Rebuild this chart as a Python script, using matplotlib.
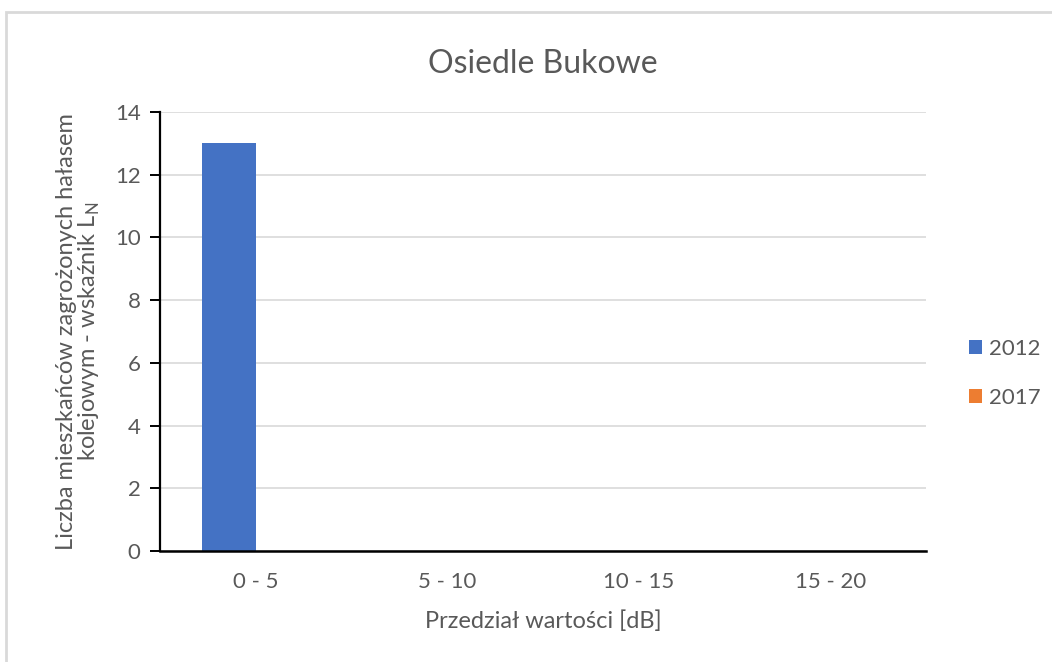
import matplotlib
matplotlib.use("Agg")
import matplotlib.pyplot as plt
from matplotlib.patches import Rectangle
import numpy as np

categories = ["0 - 5", "5 - 10", "10 - 15", "15 - 20"]
series_names = ["2012", "2017"]
values_2012 = [13, 0, 0, 0]
values_2017 = [0, 0, 0, 0]
y_ticks = [0, 2, 4, 6, 8, 10, 12, 14]

title = "Osiedle Bukowe"
x_label = "Przedział wartości [dB]"
y_label = "Liczba mieszkańców zagrożonych hałasem\nkolejowym - wskaźnik L$_\\mathregular{N}$"

colors = ["#4472C4", "#ED7D31"]
text_color = "#595959"

plt.rcParams['font.family'] = ['Lato', 'DejaVu Sans']

fig = plt.figure(figsize=(10.52, 6.62), dpi=100)
fig.patches.append(Rectangle((6/1052, -0.05), 1.2, (662-12)/662 + 0.05,
                             transform=fig.transFigure, facecolor='white',
                             edgecolor='#D9D9D9', linewidth=2, zorder=-1))

ax = fig.add_axes([160/1052, (662-551)/662, (926-160)/1052, (551-112)/662])
ax.set_facecolor('none')

x = np.arange(len(categories))
w = 0.28
ax.bar(x - w/2, values_2012, width=w, color=colors[0], label=series_names[0], zorder=3)
ax.bar(x + w/2, values_2017, width=w, color=colors[1], label=series_names[1], zorder=3)

ax.set_xlim(-0.5, len(categories) - 0.5)
ax.set_ylim(0, 14)
ax.set_yticks(y_ticks)
ax.set_xticks(x)
ax.set_xticklabels(categories)

ax.grid(axis='y', color='#D9D9D9', linewidth=1.2, zorder=0)
for s in ['top', 'right']:
    ax.spines[s].set_visible(False)
ax.spines['left'].set_color('black')
ax.spines['left'].set_linewidth(1.6)
ax.spines['bottom'].set_color('black')
ax.spines['bottom'].set_linewidth(1.8)
ax.spines['bottom'].set_zorder(4)

ax.tick_params(axis='y', length=7, width=1.4, color='black', labelsize=16,
               labelcolor=text_color, pad=7)
ax.tick_params(axis='x', length=0, labelsize=16, labelcolor=text_color, pad=15)

ax.set_title(title, fontsize=23, color=text_color, pad=28)
ax.set_xlabel(x_label, fontsize=17, color=text_color, labelpad=13)
ax.set_ylabel(y_label, fontsize=17, color=text_color, labelpad=9, linespacing=1.0)

leg = ax.legend(loc='center left', bbox_to_anchor=(1.03, 0.405), frameon=False,
                fontsize=16, labelcolor=text_color, handlelength=0.6,
                handleheight=0.6, handletextpad=0.3, labelspacing=1.3)

fig.savefig("out.png", dpi=100, facecolor='white')
